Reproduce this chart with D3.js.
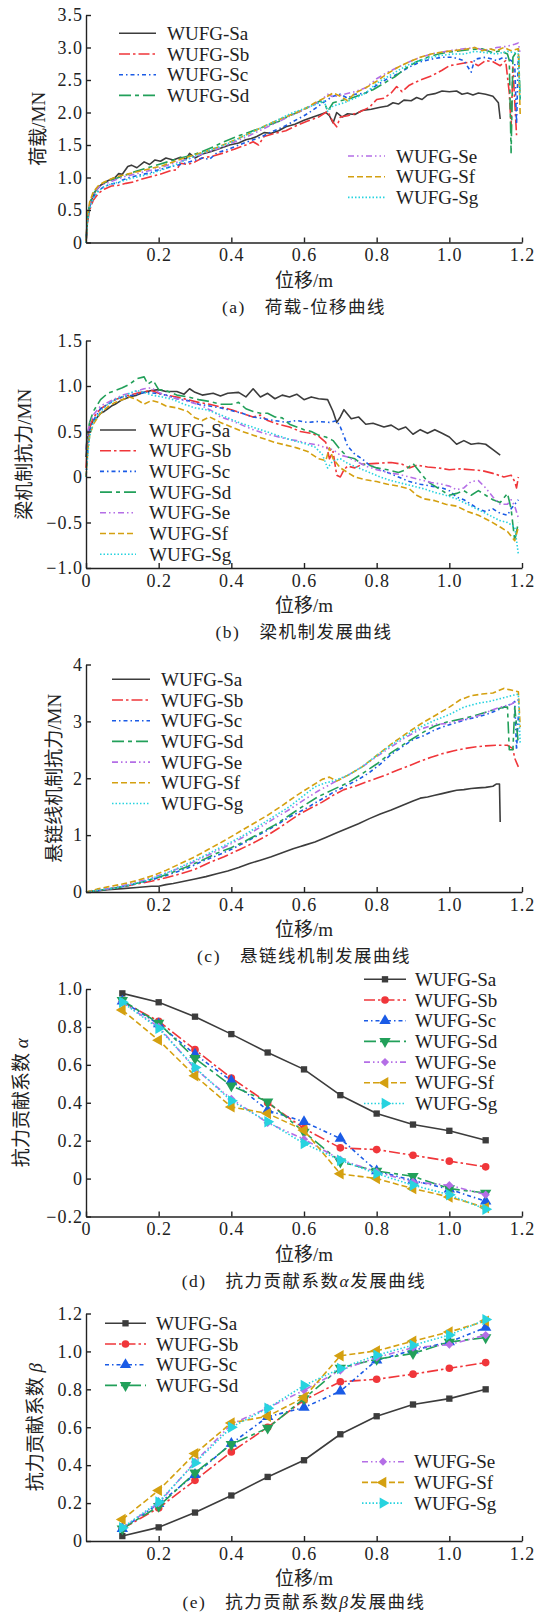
<!DOCTYPE html>
<html>
<head>
<meta charset="utf-8">
<script src="https://cdn.jsdelivr.net/npm/d3@7"></script>
<style>
  body { margin:0; background:#fff; }
  text { font-family: "Liberation Serif", "Noto Sans CJK SC", serif; fill:#222; }
</style>
</head>
<body>
<svg id="fig" width="548" height="1614"></svg>
<script>
"use strict";

var seriesNames = ["WUFG-Sa","WUFG-Sb","WUFG-Sc","WUFG-Sd","WUFG-Se","WUFG-Sf","WUFG-Sg"];
var seriesColors = ["#3c3c3c","#f0363a","#1a5be6","#22a05a","#b46ee6","#d4a010","#27d3df"];
var seriesDash = ["none","11,3,2.5,3","4,3,1.5,3","12,4,4,4","6,3,1.5,3,1.5,3","6,3","1.5,2"];
var seriesMarks = ["square","circle","up","down","diamond","left","right"];

// (a) load - displacement
var loadSa = [[0,0],[0.003,0.3],[0.008,0.5],[0.015,0.65],[0.025,0.78],[0.04,0.88],[0.06,0.95],[0.08,1.0],[0.09,1.06],[0.1,1.05],[0.115,1.17],[0.125,1.19],[0.14,1.15],[0.16,1.24],[0.175,1.2],[0.19,1.27],[0.205,1.25],[0.22,1.3],[0.24,1.27],[0.26,1.31],[0.275,1.28],[0.285,1.37],[0.3,1.3],[0.32,1.36],[0.345,1.4],[0.37,1.45],[0.395,1.5],[0.42,1.53],[0.44,1.58],[0.455,1.6],[0.47,1.63],[0.49,1.69],[0.51,1.68],[0.53,1.72],[0.55,1.78],[0.575,1.82],[0.6,1.88],[0.625,1.93],[0.645,1.97],[0.66,2.0],[0.67,1.95],[0.68,1.84],[0.69,2.0],[0.705,1.93],[0.72,1.98],[0.74,1.97],[0.76,2.03],[0.785,2.05],[0.81,2.08],[0.83,2.1],[0.845,2.15],[0.86,2.13],[0.875,2.19],[0.895,2.18],[0.91,2.23],[0.925,2.2],[0.94,2.27],[0.96,2.29],[0.98,2.33],[1.0,2.32],[1.02,2.33],[1.035,2.28],[1.05,2.3],[1.065,2.27],[1.08,2.3],[1.1,2.28],[1.12,2.25],[1.135,2.15],[1.14,1.9]];
var loadSb = [[0,0],[0.004,0.3],[0.01,0.5],[0.02,0.65],[0.035,0.76],[0.05,0.82],[0.07,0.87],[0.09,0.88],[0.11,0.91],[0.13,0.93],[0.15,0.97],[0.17,1.0],[0.19,1.03],[0.21,1.06],[0.23,1.1],[0.25,1.12],[0.26,1.22],[0.28,1.2],[0.3,1.24],[0.32,1.3],[0.35,1.33],[0.38,1.38],[0.41,1.44],[0.44,1.5],[0.46,1.55],[0.475,1.5],[0.49,1.63],[0.52,1.68],[0.55,1.72],[0.58,1.8],[0.61,1.87],[0.64,1.93],[0.665,2.02],[0.68,1.85],[0.69,1.78],[0.7,1.93],[0.72,1.95],[0.75,2.0],[0.78,2.08],[0.8,2.2],[0.82,2.22],[0.84,2.3],[0.855,2.4],[0.87,2.32],[0.89,2.42],[0.92,2.5],[0.95,2.56],[0.98,2.65],[1.0,2.72],[1.03,2.75],[1.06,2.78],[1.08,2.72],[1.1,2.8],[1.12,2.78],[1.14,2.72],[1.155,2.8],[1.165,2.3],[1.17,1.78],[1.175,2.7],[1.185,1.65]];
var loadSc = [[0,0],[0.004,0.35],[0.01,0.55],[0.02,0.7],[0.035,0.8],[0.05,0.86],[0.07,0.9],[0.09,0.92],[0.1,0.96],[0.12,1.0],[0.15,1.04],[0.18,1.08],[0.2,1.12],[0.23,1.16],[0.26,1.2],[0.29,1.25],[0.32,1.3],[0.34,1.28],[0.36,1.38],[0.39,1.43],[0.42,1.5],[0.45,1.56],[0.48,1.62],[0.51,1.7],[0.54,1.77],[0.57,1.86],[0.6,1.95],[0.62,2.02],[0.64,2.1],[0.66,2.18],[0.68,2.25],[0.7,2.28],[0.72,2.22],[0.74,2.28],[0.77,2.3],[0.8,2.42],[0.83,2.52],[0.86,2.6],[0.89,2.7],[0.92,2.78],[0.95,2.82],[0.98,2.85],[1.01,2.85],[1.04,2.8],[1.06,2.62],[1.07,2.82],[1.1,2.85],[1.13,2.8],[1.15,2.85],[1.17,2.8],[1.18,2.75],[1.185,1.82],[1.19,2.9]];
var loadSd = [[0,0],[0.004,0.35],[0.01,0.6],[0.02,0.75],[0.035,0.86],[0.05,0.92],[0.07,0.96],[0.09,1.0],[0.11,1.04],[0.14,1.1],[0.17,1.15],[0.2,1.2],[0.23,1.25],[0.26,1.3],[0.29,1.34],[0.32,1.4],[0.35,1.47],[0.38,1.55],[0.41,1.62],[0.44,1.68],[0.47,1.74],[0.5,1.8],[0.53,1.86],[0.56,1.95],[0.59,2.02],[0.62,2.1],[0.645,2.18],[0.66,2.1],[0.665,2.02],[0.68,2.15],[0.7,2.18],[0.73,2.22],[0.76,2.28],[0.79,2.35],[0.82,2.45],[0.85,2.55],[0.88,2.68],[0.91,2.78],[0.94,2.85],[0.97,2.9],[1.0,2.93],[1.03,2.95],[1.06,2.97],[1.09,2.98],[1.12,2.92],[1.14,2.95],[1.16,2.9],[1.165,2.8],[1.17,1.38],[1.175,2.85],[1.19,2.98],[1.195,2.2]];
var loadSe = [[0,0],[0.004,0.35],[0.01,0.58],[0.02,0.74],[0.035,0.85],[0.05,0.9],[0.08,0.96],[0.11,1.02],[0.14,1.06],[0.17,1.1],[0.2,1.14],[0.23,1.2],[0.26,1.25],[0.29,1.3],[0.32,1.36],[0.35,1.42],[0.38,1.48],[0.41,1.55],[0.44,1.62],[0.47,1.7],[0.5,1.78],[0.53,1.86],[0.56,1.94],[0.59,2.02],[0.62,2.1],[0.65,2.2],[0.665,2.28],[0.68,2.24],[0.71,2.28],[0.74,2.32],[0.77,2.38],[0.8,2.52],[0.83,2.62],[0.86,2.7],[0.89,2.78],[0.92,2.85],[0.95,2.9],[0.98,2.93],[1.01,2.96],[1.04,2.98],[1.07,3.0],[1.1,2.95],[1.13,3.0],[1.16,3.02],[1.18,3.05],[1.19,3.07],[1.195,2.9]];
var loadSf = [[0,0],[0.004,0.4],[0.01,0.62],[0.02,0.78],[0.035,0.88],[0.05,0.93],[0.07,0.98],[0.09,1.02],[0.12,1.06],[0.15,1.1],[0.18,1.14],[0.21,1.18],[0.24,1.24],[0.27,1.3],[0.3,1.35],[0.33,1.4],[0.36,1.46],[0.39,1.53],[0.42,1.6],[0.45,1.68],[0.48,1.76],[0.51,1.84],[0.54,1.91],[0.57,1.98],[0.6,2.05],[0.63,2.15],[0.655,2.22],[0.68,2.3],[0.7,2.25],[0.72,2.18],[0.74,2.3],[0.77,2.38],[0.8,2.48],[0.83,2.6],[0.86,2.7],[0.89,2.78],[0.92,2.85],[0.95,2.9],[0.98,2.93],[1.01,2.95],[1.04,2.97],[1.07,3.0],[1.09,2.95],[1.11,2.98],[1.13,2.95],[1.15,3.0],[1.17,2.95],[1.19,2.98],[1.195,1.97]];
var loadSg = [[0,0],[0.004,0.3],[0.01,0.52],[0.02,0.68],[0.035,0.8],[0.05,0.86],[0.07,0.9],[0.09,0.93],[0.12,0.98],[0.15,1.02],[0.18,1.06],[0.21,1.12],[0.24,1.18],[0.27,1.26],[0.3,1.33],[0.33,1.4],[0.36,1.46],[0.39,1.52],[0.42,1.6],[0.45,1.68],[0.48,1.76],[0.51,1.84],[0.54,1.92],[0.57,2.0],[0.6,2.06],[0.63,2.12],[0.655,2.18],[0.665,2.02],[0.68,2.1],[0.71,2.15],[0.74,2.22],[0.77,2.3],[0.8,2.45],[0.83,2.55],[0.86,2.65],[0.89,2.74],[0.92,2.8],[0.95,2.85],[0.98,2.88],[1.01,2.9],[1.04,2.9],[1.07,2.94],[1.1,2.92],[1.13,2.9],[1.16,2.94],[1.18,2.92],[1.19,2.9],[1.195,2.2]];

// (b) beam mechanism
var beamSa = [[0,0.22],[0.005,0.45],[0.01,0.55],[0.02,0.62],[0.03,0.65],[0.04,0.7],[0.05,0.72],[0.06,0.75],[0.07,0.78],[0.08,0.8],[0.1,0.85],[0.12,0.88],[0.14,0.9],[0.16,0.93],[0.18,0.95],[0.2,0.96],[0.22,0.94],[0.25,0.94],[0.27,0.91],[0.285,0.97],[0.3,0.93],[0.32,0.9],[0.35,0.92],[0.37,0.89],[0.39,0.92],[0.42,0.93],[0.44,0.88],[0.46,0.97],[0.48,0.88],[0.5,0.92],[0.52,0.86],[0.54,0.9],[0.56,0.88],[0.58,0.91],[0.6,0.85],[0.62,0.88],[0.64,0.86],[0.665,0.85],[0.68,0.72],[0.69,0.6],[0.7,0.66],[0.71,0.74],[0.73,0.64],[0.75,0.66],[0.77,0.58],[0.79,0.59],[0.82,0.55],[0.84,0.57],[0.86,0.52],[0.88,0.55],[0.9,0.47],[0.92,0.52],[0.94,0.48],[0.96,0.52],[0.98,0.48],[1.0,0.44],[1.02,0.36],[1.04,0.4],[1.06,0.36],[1.08,0.37],[1.1,0.36],[1.12,0.3],[1.14,0.24]];
var beamSb = [[0,0.1],[0.005,0.4],[0.01,0.55],[0.02,0.65],[0.04,0.75],[0.06,0.8],[0.08,0.85],[0.1,0.88],[0.12,0.9],[0.14,0.92],[0.16,0.94],[0.18,0.95],[0.2,0.92],[0.22,0.9],[0.25,0.88],[0.28,0.85],[0.31,0.82],[0.34,0.8],[0.37,0.77],[0.4,0.74],[0.43,0.7],[0.46,0.66],[0.48,0.68],[0.5,0.62],[0.53,0.58],[0.56,0.55],[0.59,0.5],[0.62,0.48],[0.64,0.45],[0.66,0.38],[0.67,0.2],[0.68,0.28],[0.69,0.02],[0.7,0.0],[0.71,0.08],[0.72,0.12],[0.74,0.1],[0.76,0.14],[0.8,0.15],[0.84,0.16],[0.87,0.14],[0.89,0.1],[0.91,0.13],[0.94,0.11],[0.97,0.1],[1.0,0.08],[1.03,0.09],[1.06,0.08],[1.09,0.07],[1.12,0.04],[1.15,0.0],[1.17,0.02],[1.18,-0.05],[1.185,-0.12],[1.19,0.0]];
var beamSc = [[0,0.0],[0.005,0.3],[0.01,0.5],[0.02,0.62],[0.04,0.75],[0.06,0.8],[0.08,0.85],[0.1,0.88],[0.13,0.9],[0.16,0.93],[0.19,0.92],[0.22,0.9],[0.25,0.86],[0.28,0.84],[0.31,0.8],[0.34,0.78],[0.37,0.76],[0.4,0.73],[0.43,0.7],[0.46,0.66],[0.49,0.64],[0.52,0.62],[0.55,0.6],[0.58,0.62],[0.61,0.6],[0.64,0.61],[0.67,0.6],[0.69,0.62],[0.7,0.55],[0.71,0.45],[0.72,0.34],[0.74,0.25],[0.76,0.2],[0.78,0.13],[0.8,0.1],[0.83,0.05],[0.86,0.0],[0.89,-0.05],[0.92,-0.08],[0.95,-0.1],[0.98,-0.12],[1.0,-0.15],[1.02,-0.22],[1.04,-0.25],[1.06,-0.3],[1.08,-0.35],[1.1,-0.38],[1.12,-0.35],[1.14,-0.4],[1.16,-0.42],[1.17,-0.35],[1.18,-0.3],[1.19,-0.25]];
var beamSd = [[0,0.3],[0.005,0.5],[0.01,0.6],[0.02,0.72],[0.04,0.85],[0.06,0.92],[0.08,0.95],[0.1,0.98],[0.12,1.02],[0.14,1.08],[0.16,1.1],[0.17,1.02],[0.185,1.06],[0.2,0.96],[0.22,0.95],[0.25,0.9],[0.28,0.88],[0.31,0.85],[0.34,0.83],[0.37,0.8],[0.4,0.8],[0.42,0.82],[0.44,0.75],[0.46,0.72],[0.48,0.7],[0.5,0.7],[0.52,0.66],[0.54,0.65],[0.56,0.58],[0.58,0.55],[0.6,0.52],[0.62,0.5],[0.64,0.46],[0.66,0.44],[0.68,0.4],[0.7,0.3],[0.72,0.22],[0.74,0.2],[0.76,0.14],[0.78,0.13],[0.8,0.1],[0.83,0.08],[0.86,0.05],[0.88,0.08],[0.9,0.15],[0.92,0.05],[0.94,-0.05],[0.96,-0.1],[0.98,-0.15],[1.0,-0.2],[1.02,-0.18],[1.04,-0.15],[1.06,-0.2],[1.08,-0.15],[1.1,-0.2],[1.12,-0.25],[1.14,-0.28],[1.16,-0.18],[1.17,-0.35],[1.18,-0.7],[1.19,-0.5]];
var beamSe = [[0,0.3],[0.005,0.5],[0.01,0.58],[0.02,0.68],[0.04,0.78],[0.06,0.82],[0.08,0.86],[0.1,0.9],[0.13,0.93],[0.16,0.97],[0.18,0.98],[0.2,0.93],[0.23,0.88],[0.26,0.85],[0.29,0.82],[0.32,0.78],[0.35,0.72],[0.37,0.66],[0.4,0.62],[0.43,0.57],[0.46,0.52],[0.49,0.48],[0.52,0.45],[0.55,0.42],[0.58,0.4],[0.61,0.37],[0.64,0.35],[0.66,0.32],[0.68,0.3],[0.7,0.24],[0.72,0.22],[0.74,0.18],[0.77,0.12],[0.8,0.08],[0.83,0.05],[0.86,0.03],[0.89,0.0],[0.92,-0.03],[0.95,-0.06],[0.98,-0.08],[1.0,-0.1],[1.02,-0.14],[1.04,-0.12],[1.06,-0.05],[1.08,-0.04],[1.1,-0.12],[1.12,-0.22],[1.14,-0.3],[1.16,-0.3],[1.17,-0.25],[1.18,-0.32],[1.19,-0.45]];
var beamSf = [[0,0.0],[0.005,0.3],[0.01,0.45],[0.02,0.58],[0.04,0.7],[0.06,0.77],[0.08,0.82],[0.1,0.85],[0.12,0.88],[0.14,0.85],[0.16,0.8],[0.18,0.84],[0.2,0.82],[0.22,0.78],[0.25,0.76],[0.28,0.72],[0.3,0.65],[0.32,0.62],[0.34,0.66],[0.37,0.6],[0.4,0.55],[0.43,0.5],[0.46,0.46],[0.49,0.42],[0.52,0.38],[0.55,0.35],[0.58,0.32],[0.61,0.28],[0.64,0.2],[0.66,0.18],[0.67,0.32],[0.68,0.2],[0.7,0.1],[0.72,0.05],[0.74,0.0],[0.77,-0.03],[0.8,-0.05],[0.83,-0.08],[0.86,-0.1],[0.89,-0.13],[0.91,-0.2],[0.93,-0.24],[0.96,-0.26],[0.99,-0.3],[1.02,-0.32],[1.05,-0.38],[1.08,-0.42],[1.11,-0.48],[1.14,-0.55],[1.16,-0.6],[1.17,-0.65],[1.18,-0.7],[1.19,-0.55]];
var beamSg = [[0,0.0],[0.005,0.25],[0.01,0.45],[0.02,0.6],[0.04,0.72],[0.06,0.8],[0.08,0.85],[0.1,0.88],[0.12,0.92],[0.14,0.95],[0.16,0.93],[0.18,0.9],[0.21,0.88],[0.24,0.85],[0.27,0.8],[0.3,0.76],[0.33,0.74],[0.36,0.7],[0.39,0.65],[0.42,0.6],[0.45,0.56],[0.48,0.52],[0.51,0.48],[0.54,0.44],[0.57,0.4],[0.6,0.37],[0.63,0.33],[0.65,0.25],[0.665,0.1],[0.68,0.18],[0.7,0.2],[0.72,0.15],[0.75,0.1],[0.78,0.05],[0.81,0.0],[0.84,-0.04],[0.87,-0.07],[0.9,-0.1],[0.93,-0.13],[0.96,-0.17],[0.99,-0.2],[1.02,-0.24],[1.05,-0.3],[1.08,-0.36],[1.11,-0.42],[1.14,-0.48],[1.16,-0.5],[1.18,-0.55],[1.19,-0.85]];

// (c) catenary mechanism
var cateSa = [[0,0],[0.03,0.02],[0.06,0.04],[0.1,0.06],[0.14,0.08],[0.18,0.1],[0.2,0.1],[0.22,0.13],[0.24,0.15],[0.27,0.19],[0.3,0.23],[0.33,0.27],[0.36,0.32],[0.39,0.37],[0.42,0.43],[0.45,0.5],[0.48,0.56],[0.51,0.62],[0.54,0.69],[0.57,0.76],[0.59,0.8],[0.6,0.82],[0.63,0.88],[0.66,0.96],[0.69,1.04],[0.72,1.12],[0.75,1.2],[0.78,1.29],[0.81,1.37],[0.84,1.44],[0.87,1.52],[0.9,1.6],[0.92,1.65],[0.94,1.67],[0.96,1.7],[0.98,1.73],[1.0,1.76],[1.02,1.79],[1.04,1.8],[1.06,1.82],[1.08,1.83],[1.1,1.84],[1.12,1.86],[1.13,1.9],[1.138,1.9],[1.14,1.23]];
var cateSb = [[0,0],[0.03,0.02],[0.06,0.05],[0.1,0.09],[0.14,0.14],[0.18,0.19],[0.22,0.25],[0.26,0.32],[0.3,0.4],[0.34,0.52],[0.38,0.62],[0.42,0.74],[0.46,0.86],[0.5,1.0],[0.53,1.12],[0.56,1.25],[0.59,1.38],[0.62,1.48],[0.65,1.58],[0.68,1.7],[0.71,1.8],[0.74,1.86],[0.77,1.93],[0.8,2.0],[0.83,2.07],[0.86,2.15],[0.89,2.22],[0.92,2.3],[0.95,2.37],[0.98,2.43],[1.01,2.48],[1.04,2.52],[1.07,2.55],[1.1,2.57],[1.13,2.58],[1.16,2.58],[1.175,2.52],[1.18,2.35],[1.19,2.2]];
var cateSc = [[0,0],[0.04,0.03],[0.08,0.07],[0.12,0.12],[0.16,0.18],[0.2,0.25],[0.24,0.33],[0.28,0.42],[0.32,0.54],[0.36,0.64],[0.4,0.75],[0.44,0.88],[0.48,1.02],[0.52,1.16],[0.56,1.32],[0.6,1.45],[0.64,1.6],[0.68,1.75],[0.72,1.88],[0.75,1.98],[0.78,2.1],[0.81,2.25],[0.84,2.42],[0.87,2.55],[0.9,2.68],[0.93,2.75],[0.96,2.85],[0.99,2.92],[1.02,2.98],[1.05,3.04],[1.08,3.08],[1.11,3.14],[1.14,3.22],[1.16,3.28],[1.175,3.32],[1.18,3.35],[1.185,2.5],[1.19,3.1]];
var cateSd = [[0,0],[0.04,0.03],[0.08,0.07],[0.12,0.12],[0.16,0.19],[0.2,0.26],[0.24,0.35],[0.28,0.45],[0.32,0.56],[0.36,0.68],[0.4,0.78],[0.44,0.9],[0.48,1.04],[0.52,1.18],[0.56,1.35],[0.6,1.52],[0.64,1.68],[0.68,1.8],[0.72,1.92],[0.76,2.08],[0.8,2.25],[0.84,2.45],[0.88,2.62],[0.92,2.78],[0.96,2.92],[1.0,3.0],[1.04,3.05],[1.08,3.12],[1.12,3.2],[1.15,3.25],[1.16,3.25],[1.165,2.5],[1.175,2.5],[1.18,3.25],[1.19,2.6]];
var cateSe = [[0,0],[0.04,0.04],[0.08,0.08],[0.12,0.14],[0.16,0.21],[0.2,0.29],[0.24,0.38],[0.28,0.48],[0.32,0.6],[0.36,0.72],[0.4,0.85],[0.44,0.99],[0.48,1.14],[0.52,1.3],[0.56,1.45],[0.6,1.62],[0.64,1.78],[0.68,1.92],[0.72,2.05],[0.76,2.2],[0.8,2.38],[0.84,2.55],[0.88,2.72],[0.92,2.86],[0.96,2.95],[0.99,2.96],[1.02,3.0],[1.05,3.05],[1.08,3.1],[1.11,3.18],[1.14,3.25],[1.17,3.3],[1.19,3.38]];
var cateSf = [[0,0],[0.03,0.05],[0.06,0.09],[0.1,0.14],[0.14,0.2],[0.18,0.28],[0.22,0.38],[0.26,0.5],[0.3,0.62],[0.34,0.76],[0.38,0.9],[0.42,1.05],[0.46,1.2],[0.5,1.35],[0.54,1.52],[0.58,1.7],[0.62,1.86],[0.65,1.98],[0.67,2.02],[0.69,1.95],[0.72,2.05],[0.76,2.2],[0.8,2.4],[0.84,2.6],[0.88,2.78],[0.92,2.95],[0.96,3.1],[1.0,3.25],[1.03,3.38],[1.06,3.45],[1.09,3.48],[1.12,3.5],[1.15,3.58],[1.17,3.55],[1.19,3.52],[1.195,2.9]];
var cateSg = [[0,0],[0.04,0.04],[0.08,0.07],[0.12,0.12],[0.16,0.19],[0.2,0.28],[0.24,0.38],[0.28,0.5],[0.32,0.62],[0.36,0.75],[0.4,0.88],[0.44,1.02],[0.48,1.18],[0.52,1.34],[0.56,1.5],[0.6,1.7],[0.63,1.85],[0.66,1.92],[0.68,1.95],[0.72,2.05],[0.76,2.2],[0.8,2.4],[0.84,2.58],[0.88,2.75],[0.92,2.9],[0.96,3.02],[1.0,3.12],[1.04,3.25],[1.08,3.32],[1.11,3.35],[1.14,3.4],[1.17,3.45],[1.19,3.48],[1.195,2.6]];

// (d) (e) contribution coefficients
var stepX = [0.1,0.2,0.3,0.4,0.5,0.6,0.7,0.8,0.9,1.0,1.1];
var alphaSa = [0.977,0.93,0.854,0.762,0.665,0.576,0.44,0.343,0.285,0.252,0.202];
var alphaSb = [0.933,0.83,0.68,0.53,0.40,0.264,0.162,0.153,0.123,0.092,0.062];
var alphaSc = [0.935,0.815,0.655,0.516,0.36,0.30,0.211,0.04,-0.01,-0.056,-0.12];
var alphaSd = [0.94,0.82,0.634,0.49,0.405,0.246,0.088,0.04,0.012,-0.053,-0.076];
var alphaSe = [0.93,0.80,0.58,0.42,0.294,0.208,0.10,0.035,-0.018,-0.035,-0.085];
var alphaSf = [0.889,0.73,0.542,0.378,0.343,0.255,0.025,0.0,-0.053,-0.097,-0.153];
var alphaSg = [0.93,0.792,0.586,0.41,0.30,0.185,0.097,0.026,-0.035,-0.085,-0.162];
var betaSa = [0.026,0.072,0.15,0.24,0.338,0.426,0.563,0.658,0.72,0.751,0.80];
var betaSb = [0.065,0.174,0.32,0.47,0.60,0.743,0.84,0.853,0.88,0.911,0.941];
var betaSc = [0.065,0.197,0.35,0.514,0.655,0.704,0.79,0.954,1.006,1.05,1.126];
var betaSd = [0.065,0.183,0.36,0.51,0.596,0.751,0.913,0.959,0.989,1.05,1.073];
var betaSe = [0.07,0.20,0.417,0.616,0.702,0.795,0.90,0.968,1.02,1.036,1.086];
var betaSf = [0.114,0.267,0.461,0.623,0.658,0.757,0.977,1.003,1.054,1.103,1.16];
var betaSg = [0.07,0.206,0.412,0.60,0.70,0.82,0.91,0.98,1.033,1.086,1.168];

var svg = d3.select('#fig');
var plotL = 86, plotR = 522, plotH = 227.5;

function markerPath(k) {
  let t = seriesMarks[k];
  let type = t == 'circle' ? d3.symbolCircle : (t == 'square' || t == 'diamond') ? d3.symbolSquare : d3.symbolTriangle;
  let size = t == 'circle' ? 46 : t == 'square' ? 40 : t == 'diamond' ? 34 : 56;
  return d3.symbol().type(type).size(size)();
}
function markerRot(k) {
  return {square:0, circle:0, up:0, down:180, diamond:45, left:-90, right:90}[seriesMarks[k]];
}

function drawPanel(p) {
  let g = svg.append('g');
  let bottom = p.top + plotH;
  let x = d3.scaleLinear().domain([0, 1.2]).range([plotL, plotR]);
  let y = d3.scaleLinear().domain(p.yDomain).range([bottom, p.top]);

  let line = d3.line().x(d => x(d[0])).y(d => y(d[1]));
  p.series.forEach(function (s, k) {
    g.append('path')
      .attr('d', line(s))
      .attr('fill', 'none')
      .attr('stroke', seriesColors[k])
      .attr('stroke-width', 1.6)
      .attr('stroke-dasharray', seriesDash[k])
      .attr('stroke-linejoin', 'round');
    if (p.markers) {
      g.selectAll(null).data(s).enter().append('path')
        .attr('d', markerPath(k))
        .attr('fill', seriesColors[k])
        .attr('transform', d => `translate(${x(d[0])},${y(d[1])}) rotate(${markerRot(k)})`);
    }
  });

  let xAxis = g.append('g')
    .attr('transform', `translate(0,${bottom})`)
    .call(d3.axisBottom(x).tickValues(p.xTicks).tickSize(-5).tickSizeOuter(0).tickPadding(6)
      .tickFormat(d => d == 0 ? '0' : d3.format('.1f')(d)));
  let yAxis = g.append('g')
    .attr('transform', `translate(${plotL},0)`)
    .call(d3.axisLeft(y).tickValues(p.yTicks).tickSize(-5).tickSizeOuter(0).tickPadding(3)
      .tickFormat(d => d == 0 ? '0' : d3.format(p.yFormat)(d)));
  [xAxis, yAxis].forEach(function (a) {
    a.selectAll('path,line').attr('stroke', '#222').attr('stroke-width', 1.4);
    a.selectAll('text').attr('font-size', 18).attr('letter-spacing', 1)
      .style('font-family', '"Liberation Serif", serif').attr('fill', '#222');
  });

  g.append('text')
    .attr('transform', `translate(${p.yLabelX},${(p.top + bottom) / 2}) rotate(-90)`)
    .attr('text-anchor', 'middle').attr('dy', '0.35em')
    .attr('font-size', 19)
    .html(p.yLabel);

  g.append('text')
    .attr('x', (plotL + plotR) / 2).attr('y', bottom + 37.5).attr('dy', '0.35em')
    .attr('text-anchor', 'middle').attr('font-size', 19)
    .text('位移/m');

  // last caption sits right at the page edge, nudge it up a little
  g.append('text')
    .attr('x', (plotL + plotR) / 2).attr('y', Math.min(bottom + 64, 1602)).attr('dy', '0.35em')
    .attr('text-anchor', 'middle').attr('font-size', 17.5).attr('letter-spacing', 1.5)
    .html(p.caption);

  p.legends.forEach(function (lg) {
    lg.items.forEach(function (k, i) {
      let ly = lg.y + i * 20.7;
      g.append('line')
        .attr('x1', lg.x1).attr('x2', lg.x2).attr('y1', ly).attr('y2', ly)
        .attr('stroke', seriesColors[k]).attr('stroke-width', 1.6)
        .attr('stroke-dasharray', seriesDash[k]);
      if (p.markers) {
        g.append('path').attr('d', markerPath(k)).attr('fill', seriesColors[k])
          .attr('transform', `translate(${(lg.x1 + lg.x2) / 2},${ly}) rotate(${markerRot(k)})`);
      }
      g.append('text')
        .attr('x', lg.tx).attr('y', ly).attr('dy', '0.35em')
        .attr('font-size', 19)
        .text(seriesNames[k]);
    });
  });
}

function pairs(ys) {
  return ys.map((v, i) => [stepX[i], v]);
}

var ticks02 = [0.2, 0.4, 0.6, 0.8, 1.0, 1.2];
var ticks0 = [0, 0.2, 0.4, 0.6, 0.8, 1.0, 1.2];

drawPanel({
  top: 15, yDomain: [0, 3.5], yTicks: [0, 0.5, 1, 1.5, 2, 2.5, 3, 3.5], yFormat: '.1f', xTicks: ticks02,
  series: [loadSa, loadSb, loadSc, loadSd, loadSe, loadSf, loadSg],
  yLabel: '荷载/MN', yLabelX: 38.5,
  caption: '(a)\u3000荷载-位移曲线',
  legends: [{items: [0, 1, 2, 3], x1: 119, x2: 156, tx: 167, y: 33.3},
            {items: [4, 5, 6], x1: 348, x2: 385, tx: 396, y: 156}]
});
drawPanel({
  top: 340.5, yDomain: [-1, 1.5], yTicks: [-1, -0.5, 0, 0.5, 1, 1.5], yFormat: '.1f', xTicks: ticks0,
  series: [beamSa, beamSb, beamSc, beamSd, beamSe, beamSf, beamSg],
  yLabel: '梁机制抗力/MN', yLabelX: 24.5,
  caption: '(b)\u3000梁机制发展曲线',
  legends: [{items: [0, 1, 2, 3, 4, 5, 6], x1: 100, x2: 136, tx: 149, y: 430}]
});
drawPanel({
  top: 664.5, yDomain: [0, 4], yTicks: [0, 1, 2, 3, 4], yFormat: 'd', xTicks: ticks02,
  series: [cateSa, cateSb, cateSc, cateSd, cateSe, cateSf, cateSg],
  yLabel: '悬链线机制抗力/MN', yLabelX: 54,
  caption: '(c)\u3000悬链线机制发展曲线',
  legends: [{items: [0, 1, 2, 3, 4, 5, 6], x1: 112, x2: 150, tx: 161, y: 679.3}]
});
drawPanel({
  top: 989, yDomain: [-0.2, 1.0], yTicks: [-0.2, 0, 0.2, 0.4, 0.6, 0.8, 1.0], yFormat: '.1f', xTicks: ticks0,
  markers: true,
  series: [alphaSa, alphaSb, alphaSc, alphaSd, alphaSe, alphaSf, alphaSg].map(pairs),
  yLabel: '抗力贡献系数 <tspan font-style="italic">α</tspan>', yLabelX: 21.7,
  caption: '(d)\u3000抗力贡献系数<tspan font-style="italic">α</tspan>发展曲线',
  legends: [{items: [0, 1, 2, 3, 4, 5, 6], x1: 364, x2: 406, tx: 415, y: 979.3}]
});
drawPanel({
  top: 1313.5, yDomain: [0, 1.2], yTicks: [0, 0.2, 0.4, 0.6, 0.8, 1.0, 1.2], yFormat: '.1f', xTicks: ticks02,
  markers: true,
  series: [betaSa, betaSb, betaSc, betaSd, betaSe, betaSf, betaSg].map(pairs),
  yLabel: '抗力贡献系数 <tspan font-style="italic">β</tspan>', yLabelX: 35,
  caption: '(e)\u3000抗力贡献系数<tspan font-style="italic">β</tspan>发展曲线',
  legends: [{items: [0, 1, 2, 3], x1: 105, x2: 146, tx: 156, y: 1323.3},
            {items: [4, 5, 6], x1: 362, x2: 404, tx: 414, y: 1461.7}]
});
</script>
</body>
</html>
